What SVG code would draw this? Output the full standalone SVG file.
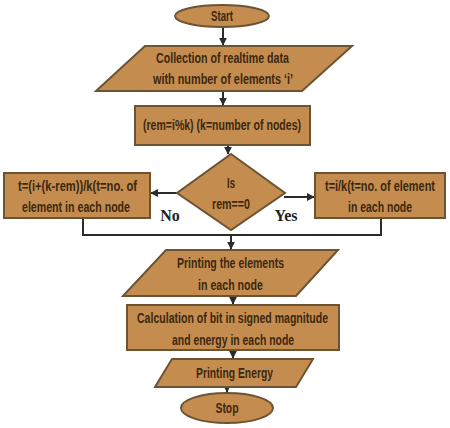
<svg xmlns="http://www.w3.org/2000/svg" width="450" height="428" viewBox="0 0 450 428">
<defs>
<marker id="ah" viewBox="0 0 10 10" refX="9" refY="5" markerWidth="4" markerHeight="4" orient="auto-start-reverse">
<path d="M0,0 L10,5 L0,10 z" fill="#2b2b2b"/>
</marker>
<style>
.n{fill:#c58c4f;stroke:#6b5433;stroke-width:2}
.t{font-family:'Liberation Sans',Arial,sans-serif;font-size:15px;font-weight:bold;fill:#3b2810;text-anchor:middle}
.c{fill:none;stroke:#2b2b2b;stroke-width:2}
.a{marker-end:url(#ah)}
.l{font-family:'Liberation Serif','Times New Roman',serif;font-weight:bold;font-size:16px;fill:#222;text-anchor:middle}
</style>
</defs>
<rect width="450" height="428" fill="#ffffff"/>
<g id="connectors">
<line class="c a" x1="223" y1="27" x2="223" y2="45"/>
<line class="c a" x1="223" y1="91" x2="223" y2="105"/>
<line class="c a" x1="228" y1="145" x2="228" y2="154"/>
<line class="c a" x1="177" y1="193" x2="151" y2="193"/>
<line class="c a" x1="284" y1="197" x2="314" y2="197"/>
<polyline class="c" points="83,218 83,235 381,235 381,218"/>
<line class="c a" x1="231" y1="235" x2="231" y2="249"/>
<line class="c a" x1="233" y1="296" x2="233" y2="304"/>
<line class="c a" x1="233" y1="350" x2="233" y2="358"/>
<line class="c a" x1="227" y1="387" x2="227" y2="392"/>
<text class="l" x="170" y="221">No</text>
<text class="l" x="286" y="221">Yes</text>
</g>
<g id="start">
<ellipse class="n" cx="222" cy="16" rx="47" ry="11"/>
<text class="t" transform="translate(222,21) scale(0.75,1)" textLength="29.3" lengthAdjust="spacingAndGlyphs">Start</text>
</g>
<g id="collect">
<polygon class="n" points="145,46 352,46 302,91 96,91"/>
<text class="t" transform="translate(222.5,63) scale(0.75,1)" textLength="177.3" lengthAdjust="spacingAndGlyphs">Collection of realtime data</text>
<text class="t" transform="translate(223,84) scale(0.75,1)" textLength="186.7" lengthAdjust="spacingAndGlyphs">with number of elements ‘i’</text>
</g>
<g id="rem">
<rect class="n" x="135" y="106" width="175" height="39"/>
<text class="t" transform="translate(222,130) scale(0.75,1)" textLength="210.7" lengthAdjust="spacingAndGlyphs">(rem=i%k) (k=number of nodes)</text>
</g>
<g id="decision">
<polygon class="n" points="231,154 285,193 231,230 177,193"/>
<text class="t" transform="translate(231,188) scale(0.75,1)" textLength="10.7" lengthAdjust="spacingAndGlyphs">Is</text>
<text class="t" transform="translate(231,209) scale(0.75,1)" textLength="50.7" lengthAdjust="spacingAndGlyphs">rem==0</text>
</g>
<g id="no-branch">
<rect class="n" x="4" y="173" width="146" height="45"/>
<text class="t" transform="translate(77.5,191) scale(0.75,1)" textLength="158.7" lengthAdjust="spacingAndGlyphs">t=(i+(k-rem))/k(t=no. of</text>
<text class="t" transform="translate(76,212) scale(0.75,1)" textLength="144" lengthAdjust="spacingAndGlyphs">element in each node</text>
</g>
<g id="yes-branch">
<rect class="n" x="315" y="173" width="130" height="45"/>
<text class="t" transform="translate(380,191) scale(0.75,1)" textLength="146.7" lengthAdjust="spacingAndGlyphs">t=i/k(t=no. of element</text>
<text class="t" transform="translate(380,212) scale(0.75,1)" textLength="85.3" lengthAdjust="spacingAndGlyphs">in each node</text>
</g>
<g id="print-elements">
<polygon class="n" points="166,250 338,250 296,296 123,296"/>
<text class="t" transform="translate(230.5,268) scale(0.75,1)" textLength="142.7" lengthAdjust="spacingAndGlyphs">Printing the elements</text>
<text class="t" transform="translate(230.5,290) scale(0.75,1)" textLength="86.7" lengthAdjust="spacingAndGlyphs">in each node</text>
</g>
<g id="calc">
<rect class="n" x="127" y="305" width="212" height="45"/>
<text class="t" transform="translate(232.5,323) scale(0.75,1)" textLength="254.7" lengthAdjust="spacingAndGlyphs">Calculation of bit in signed magnitude</text>
<text class="t" transform="translate(233,345) scale(0.75,1)" textLength="162.7" lengthAdjust="spacingAndGlyphs">and energy in each node</text>
</g>
<g id="print-energy">
<polygon class="n" points="172,359 313,359 296,387 155,387"/>
<text class="t" transform="translate(234.5,378) scale(0.75,1)" textLength="102.7" lengthAdjust="spacingAndGlyphs">Printing Energy</text>
</g>
<g id="stop">
<ellipse class="n" cx="227" cy="408" rx="46" ry="15"/>
<text class="t" transform="translate(227,413) scale(0.75,1)" textLength="30.7" lengthAdjust="spacingAndGlyphs">Stop</text>
</g>
</svg>
